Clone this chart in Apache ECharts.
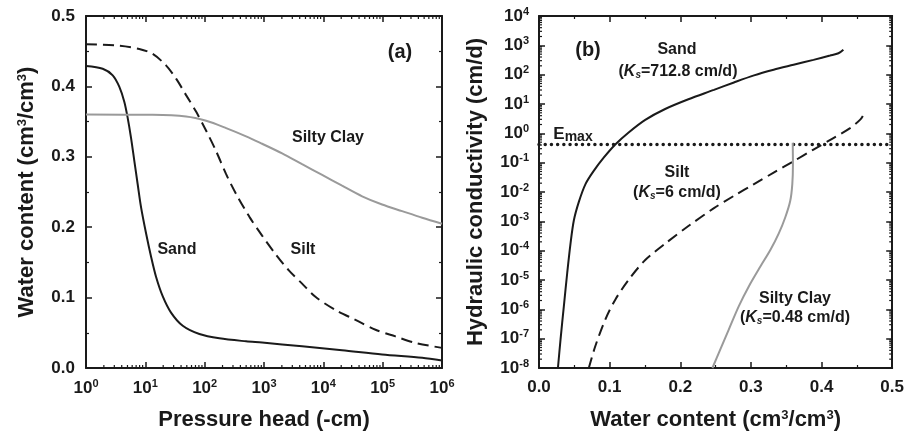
<!DOCTYPE html>
<html>
<head>
<meta charset="utf-8">
<title>Retention and conductivity curves</title>
<script src="https://cdn.jsdelivr.net/npm/echarts@6/dist/echarts.min.js"></script>
<style>
    html, body { margin: 0; padding: 0; background: #fff; }
    #main { width: 907px; height: 436px; }
</style>
</head>
<body>
<div id="main"></div>
<script>
// (a) water retention: pressure head (-cm) -> water content
var sandH = [1, 1.91, 2.82, 3.65, 4.43, 5.05, 5.74, 6.53, 7.43, 8.46, 10.3, 12.5, 15.1, 19.6, 27.1, 42.7, 81.5, 177, 499, 929, 4385, 20700, 97800, 463000, 1000000];
var sandTheta = [0.429, 0.4251, 0.4157, 0.3993, 0.378, 0.355, 0.327, 0.294, 0.261, 0.2285, 0.191, 0.158, 0.130, 0.102, 0.0787, 0.060, 0.0482, 0.0421, 0.0379, 0.0361, 0.0309, 0.0253, 0.0192, 0.0145, 0.0108];

var siltH = [1, 3.65, 7.9, 13.3, 22.3, 33, 48.6, 71.6, 106, 156, 230, 339, 568, 929, 1560, 2620, 4385, 7360, 16000, 34800, 75700, 164000, 357000, 1000000];
var siltTheta = [0.460, 0.4579, 0.4532, 0.4462, 0.4298, 0.411, 0.3876, 0.3642, 0.337, 0.308, 0.2753, 0.2472, 0.2147, 0.188, 0.162, 0.1386, 0.1199, 0.1011, 0.0824, 0.0684, 0.0543, 0.0449, 0.0356, 0.0286];

var clayH = [1, 13.3, 48.6, 106, 230, 499, 929, 2020, 4385, 9550, 20700, 45100, 97800, 213000, 463000, 1000000];
var clayTheta = [0.360, 0.3596, 0.3572, 0.3511, 0.3408, 0.3291, 0.3185, 0.3048, 0.2895, 0.2743, 0.259, 0.2439, 0.2322, 0.2228, 0.2135, 0.205];

// (b) hydraulic conductivity: water content -> K (cm/d)
var sandTheta2 = [0.0268, 0.0305, 0.0352, 0.0399, 0.0446, 0.0493, 0.0564, 0.0658, 0.0775, 0.0916, 0.108, 0.1269, 0.1504, 0.1786, 0.2115, 0.2477, 0.276, 0.3044, 0.3322, 0.3604, 0.3886, 0.4121, 0.4239, 0.4309];
var sandK = [1e-8, 9.5e-8, 1.29e-6, 1.7e-5, 1.74e-4, 1.07e-3, 4.6e-3, 0.0186, 0.0525, 0.148, 0.417, 1.07, 2.88, 6.76, 14.5, 30.2, 54.3, 94.6, 147, 217, 320, 448, 537, 712.8];

var siltTheta2 = [0.0705, 0.0799, 0.094, 0.108, 0.1269, 0.1504, 0.1786, 0.2115, 0.2477, 0.276, 0.3044, 0.3322, 0.3604, 0.3886, 0.4168, 0.4404, 0.4544, 0.4592, 0.4605];
var siltK = [1e-8, 5.75e-8, 4.57e-7, 2.14e-6, 1.02e-5, 4.79e-5, 1.74e-4, 6.9e-4, 2.82e-3, 7.4e-3, 0.0186, 0.0457, 0.112, 0.28, 0.692, 1.51, 2.88, 4.24, 6];

var clayTheta2 = [0.2455, 0.257, 0.2688, 0.2829, 0.297, 0.3134, 0.3275, 0.3393, 0.3487, 0.3557, 0.3586, 0.3595, 0.3592];
var clayK = [1e-8, 4.47e-8, 2.09e-7, 1.29e-6, 6.03e-6, 2.88e-5, 1.05e-4, 3.8e-4, 1.38e-3, 5.0e-3, 0.0186, 0.087, 0.48];

var emaxTheta = [0, 0.5];
var emaxK = [0.42, 0.42];

// minor tick positions for the log axes (2..9 in each decade)
function minorLogTicks(fromExp, toExp) {
    var out = [];
    for (var k = fromExp; k < toExp; k++) {
        for (var m = 2; m <= 9; m++) out.push(m * Math.pow(10, k));
    }
    return out;
}
var headMinor = minorLogTicks(0, 6);
var condMinor = minorLogTicks(-8, 4);

var FONT = '"Liberation Sans", Arial, sans-serif';
var INK = '#1a1a1a';
var GRAY = '#9a9a9a';

function pairs(xs, ys) {
    return xs.map(function (x, i) { return [x, ys[i]]; });
}

var powRich = {
    b: {fontFamily: FONT, fontWeight: 'bold', fontSize: 17, color: INK, lineHeight: 20},
    s: {fontFamily: FONT, fontWeight: 'bold', fontSize: 11, color: INK, lineHeight: 12, verticalAlign: 'top'}
};
function powLabel(v) {
    var e = Math.round(Math.log10(v));
    return '{b|10}{s|' + e + '}';
}
var nameStyle = {
    fontFamily: FONT, fontWeight: 'bold', fontSize: 22, color: INK,
    rich: {s: {fontFamily: FONT, fontWeight: 'bold', fontSize: 13, color: INK, verticalAlign: 'top', lineHeight: 15}}
};
var line2 = {color: INK, width: 2};

function linAxis(grid, pos, show, name, gap) {
    return {
        type: 'value', gridIndex: grid, position: pos, min: 0, max: 0.5, interval: 0.1,
        name: name || '', nameLocation: 'middle', nameGap: gap || 0, nameTextStyle: nameStyle,
        axisLine: {show: true, onZero: false, lineStyle: line2},
        axisTick: {show: true, inside: true, length: 6, lineStyle: {color: INK, width: 1.5}},
        minorTick: {show: true, splitNumber: 2, length: 3, lineStyle: {color: INK, width: 1.2}},
        axisLabel: {show: show, margin: 11, fontFamily: FONT, fontWeight: 'bold', fontSize: 17, color: INK,
            formatter: function (v) { return v.toFixed(1); }},
        splitLine: {show: false}
    };
}
function logAxis(grid, pos, show, lo, hi, name, gap) {
    return {
        type: 'log', logBase: 10, gridIndex: grid, position: pos, min: lo, max: hi, interval: 1,
        name: name || '', nameLocation: 'middle', nameGap: gap || 0, nameTextStyle: nameStyle,
        axisLine: {show: true, onZero: false, lineStyle: line2},
        axisTick: {show: true, inside: true, length: 6, lineStyle: {color: INK, width: 1.5}},
        minorTick: {show: false},
        axisLabel: {show: show, margin: 10, showMinLabel: true, showMaxLabel: true, formatter: powLabel, rich: powRich},
        splitLine: {show: false}
    };
}

function minorX(params, api) {
    var cs = params.coordSys;
    var x = api.coord([api.value(0), api.value(1)])[0];
    var b = cs.y + cs.height, t = cs.y;
    return {type: 'group', children: [
        {type: 'line', shape: {x1: x, y1: b, x2: x, y2: b - 3}, style: {stroke: INK, lineWidth: 1.2}},
        {type: 'line', shape: {x1: x, y1: t, x2: x, y2: t + 3}, style: {stroke: INK, lineWidth: 1.2}}
    ]};
}
function minorY(params, api) {
    var cs = params.coordSys;
    var y = api.coord([api.value(0), api.value(1)])[1];
    var l = cs.x, r = cs.x + cs.width;
    return {type: 'group', children: [
        {type: 'line', shape: {x1: l, y1: y, x2: l + 3, y2: y}, style: {stroke: INK, lineWidth: 1.2}},
        {type: 'line', shape: {x1: r, y1: y, x2: r - 3, y2: y}, style: {stroke: INK, lineWidth: 1.2}}
    ]};
}

function label(x, y, text, size) {
    return {
        type: 'text', x: x, y: y, z: 100,
        style: {
            text: text, align: 'center', verticalAlign: 'middle',
            fontFamily: FONT, fontWeight: 'bold', fontSize: size || 16, fill: INK,
            rich: {
                i: {fontFamily: FONT, fontWeight: 'bold', fontStyle: 'italic', fontSize: 16, fill: INK},
                sub: {fontFamily: FONT, fontWeight: 'bold', fontStyle: 'italic', fontSize: 10, fill: INK, verticalAlign: 'bottom', lineHeight: 12},
                e: {fontFamily: FONT, fontWeight: 'bold', fontSize: 17, fill: INK, lineHeight: 20},
                m: {fontFamily: FONT, fontWeight: 'bold', fontSize: 14, fill: INK, verticalAlign: 'bottom', lineHeight: 16}
            }
        }
    };
}

var chart = echarts.init(document.getElementById('main'));
var option = {
    backgroundColor: '#fff',
    animation: false,
    grid: [
        {left: 86, top: 16, width: 356, height: 356},
        {left: 539, top: 16, width: 355, height: 356}
    ],
    xAxis: [
        logAxis(0, 'bottom', true, 1, 1e6, 'Pressure head (-cm)', 41),
        logAxis(0, 'top', false, 1, 1e6),
        linAxis(1, 'bottom', true, 'Water content (cm{s|3}/cm{s|3})', 41),
        linAxis(1, 'top', false)
    ],
    yAxis: [
        linAxis(0, 'left', true, 'Water content (cm{s|3}/cm{s|3})', 48),
        linAxis(0, 'right', false),
        logAxis(1, 'left', true, 1e-8, 1e4, 'Hydraulic conductivity (cm/d)', 52),
        logAxis(1, 'right', false, 1e-8, 1e4)
    ],
    series: [
        {type: 'custom', xAxisIndex: 0, yAxisIndex: 0, silent: true, renderItem: minorX,
            data: headMinor.map(function (v) { return [v, 0.25]; })},
        {type: 'custom', xAxisIndex: 2, yAxisIndex: 2, silent: true, renderItem: minorY,
            data: condMinor.map(function (v) { return [0.25, v]; })},

        {name: 'Sand', type: 'line', xAxisIndex: 0, yAxisIndex: 0, smooth: 0.3, symbol: 'none',
            lineStyle: {color: INK, width: 2}, data: pairs(sandH, sandTheta)},
        {name: 'Silt', type: 'line', xAxisIndex: 0, yAxisIndex: 0, smooth: 0.3, symbol: 'none',
            lineStyle: {color: INK, width: 2, type: [11, 6]}, data: pairs(siltH, siltTheta)},
        {name: 'Silty Clay', type: 'line', xAxisIndex: 0, yAxisIndex: 0, smooth: 0.3, symbol: 'none',
            lineStyle: {color: GRAY, width: 2}, data: pairs(clayH, clayTheta)},

        {name: 'Emax', type: 'line', xAxisIndex: 2, yAxisIndex: 2, symbol: 'none',
            lineStyle: {color: INK, width: 3.5, type: [0.01, 6.2], cap: 'round'}, data: pairs(emaxTheta, emaxK)},
        {name: 'Sand K', type: 'line', xAxisIndex: 2, yAxisIndex: 2, smooth: 0.3, symbol: 'none',
            lineStyle: {color: INK, width: 2}, data: pairs(sandTheta2, sandK)},
        {name: 'Silt K', type: 'line', xAxisIndex: 2, yAxisIndex: 2, smooth: 0.3, symbol: 'none',
            lineStyle: {color: INK, width: 2, type: [11, 6]}, data: pairs(siltTheta2, siltK)},
        {name: 'Silty Clay K', type: 'line', xAxisIndex: 2, yAxisIndex: 2, smooth: 0.3, symbol: 'none',
            lineStyle: {color: GRAY, width: 2}, data: pairs(clayTheta2, clayK)}
    ],
    graphic: [
        label(400, 52, '(a)', 20),
        label(328, 138, 'Silty Clay'),
        label(177, 250, 'Sand'),
        label(303, 250, 'Silt'),
        label(588, 50, '(b)', 20),
        label(677, 50, 'Sand'),
        label(678, 72, '({i|K}{sub|s}=712.8 cm/d)'),
        label(573, 134, '{e|E}{m|max}'),
        label(677, 173, 'Silt'),
        label(677, 193, '({i|K}{sub|s}=6 cm/d)'),
        label(795, 299, 'Silty Clay'),
        label(795, 318, '({i|K}{sub|s}=0.48 cm/d)')
    ]
};
chart.setOption(option);
</script>
</body>
</html>
